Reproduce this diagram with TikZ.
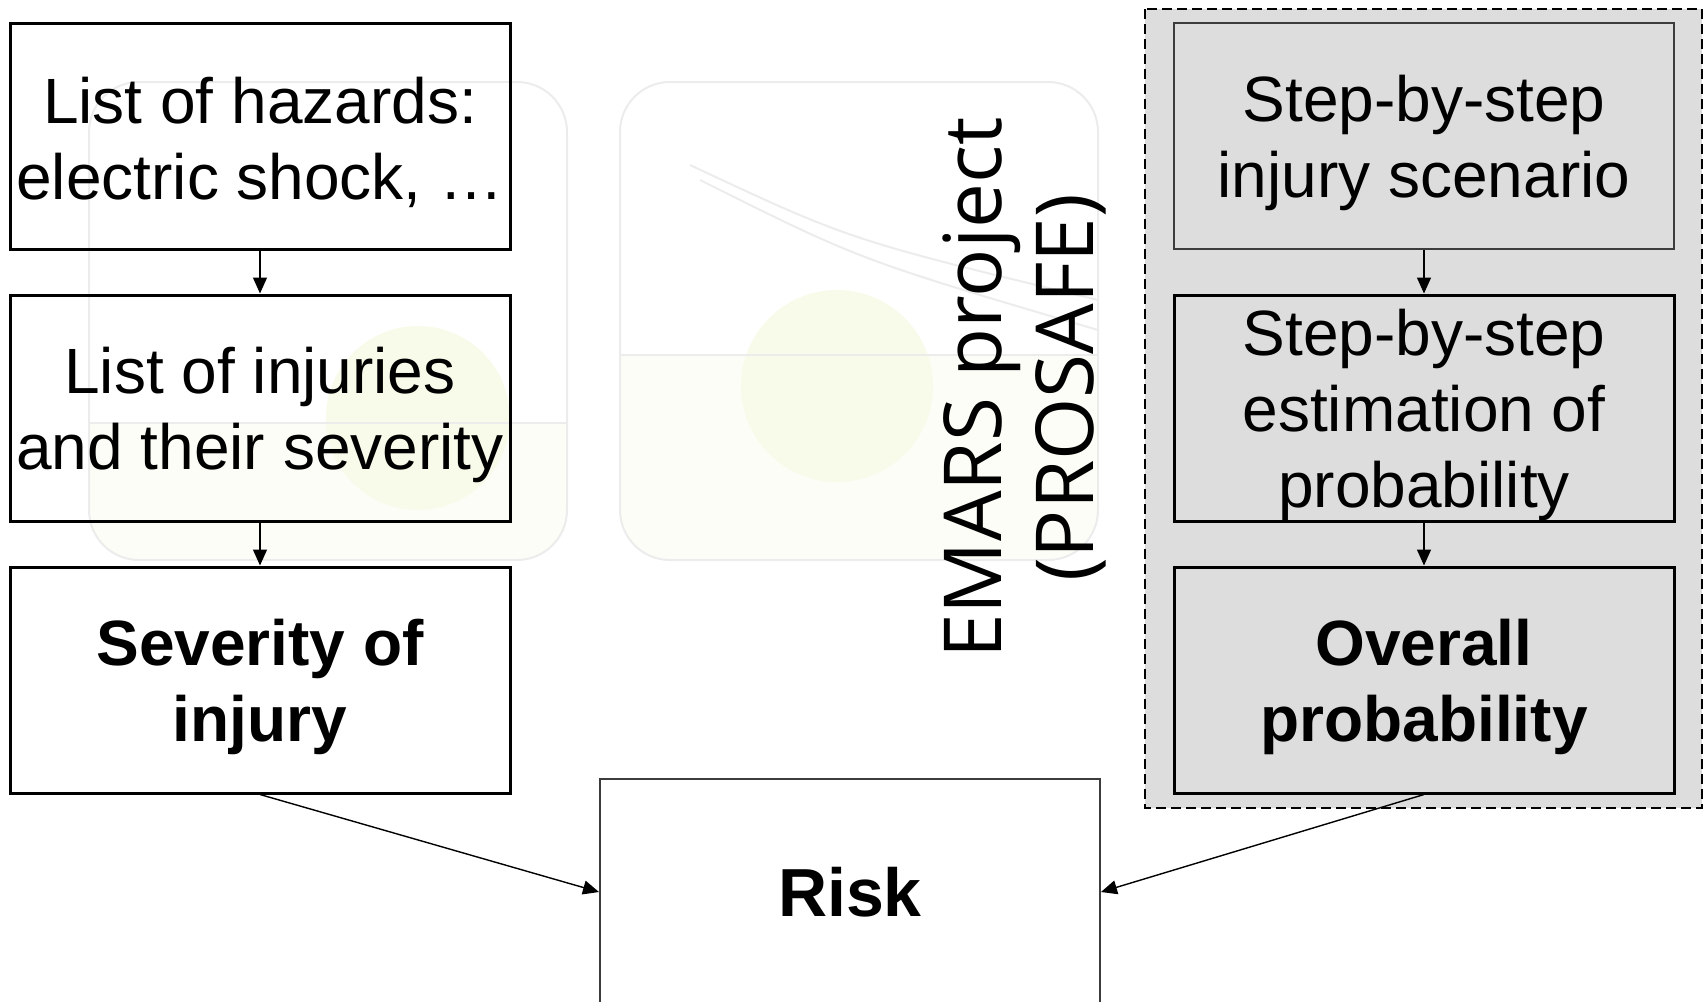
\documentclass[tikz,border=0pt]{standalone}
\usepackage{fontspec}
\setmainfont{Liberation Sans}
\newfontfamily\projfont{Open Sans}
\usetikzlibrary{arrows.meta}
\definecolor{panelgray}{RGB}{221,221,221}
\definecolor{markline}{RGB}{236,236,236}
\definecolor{markfill}{RGB}{252,253,246}
\definecolor{markgreen}{RGB}{249,251,234}
\definecolor{riskline}{RGB}{60,60,60}
\tikzset{
	box/.style={draw=black, line width=1.5pt, minimum width=250pt, minimum height=113pt,
		inner sep=0pt, align=center},
	greybox/.style={box, fill=panelgray},
	boxtext/.style={inner sep=0pt, align=center, font=\fontsize{32}{38}\selectfont},
	boldtext/.style={boxtext, font=\fontsize{32}{38}\selectfont\bfseries},
	arr/.style={-{Triangle[length=8pt,width=7pt]}, line width=0.7pt}
}
\newcommand{\myBox}[5]{
\node[#1] (#2) at (#3) {};
\node[#4] (#2-text) at ([yshift=-3.3pt]#2.center) {#5};
}
\newcommand{\myArrow}[2]{
\draw[arr] (#1) -- (#2);
}

\begin{document}
\begin{tikzpicture}[x=0.5pt,y=-0.5pt]
			\useasboundingbox (0,0) rectangle (1704,1002);
			% faint logo in the background
			\begin{scope}
				\clip[rounded corners=25pt] (89,82) rectangle (567,560);
				\fill[markfill] (89,423) rectangle (567,560);
			\end{scope}
			\begin{scope}
				\clip[rounded corners=25pt] (620,82) rectangle (1098,560);
				\fill[markfill] (620,355) rectangle (1098,560);
			\end{scope}
			\fill[markgreen] (418,418) circle (46pt);
			\fill[markgreen] (837,386) circle (48pt);
			\draw[markline, line width=1pt, rounded corners=25pt] (89,82) rectangle (567,560);
			\draw[markline, line width=1pt, rounded corners=25pt] (620,82) rectangle (1098,560);
			\draw[markline, line width=1pt] (567,423) -- (89,423);
			\draw[markline, line width=1pt] (1098,355) -- (620,355);
			\draw[markline, line width=1pt] (690,165) .. controls (850,240) .. (1098,300);
			\draw[markline, line width=1pt] (700,180) .. controls (860,260) .. (1098,330);
			% dashed panel
			\draw[fill=panelgray, line width=1pt, dash pattern=on 5pt off 2.5pt] (1145,9) rectangle (1702,808);
			% left column
			\myBox{box}{hazards}{260,136}{boxtext}{List of hazards:\\electric shock, \ldots}
			\myBox{box}{injuries}{260,408}{boxtext}{List of injuries\\and their severity}
			\myBox{box}{severity}{260,680}{boldtext}{Severity of\\injury}
			% right column
			\myBox{greybox, draw=riskline, line width=0.8pt}{scenario}{1424,136}{boxtext}{Step-by-step\\injury scenario}
			\myBox{greybox}{estimation}{1424,408}{boxtext}{Step-by-step\\estimation of\\probability}
			\myBox{greybox}{overall}{1424,680}{boldtext}{Overall\\probability}
			% rotated label
			\node[rotate=90, align=center, font=\projfont\fontsize{40}{46}\selectfont] (emars) at (1024,388) {EMARS project\\(PROSAFE)};
			% risk
			\node[box, draw=riskline, line width=1pt, font=\fontsize{34}{40}\selectfont\bfseries] (risk) at (850,892) {Risk};
			% arrows
			\myArrow{hazards}{injuries}
			\myArrow{injuries}{severity}
			\myArrow{scenario}{estimation}
			\myArrow{estimation}{overall}
			\myArrow{severity.south}{risk.west}
			\myArrow{overall.south}{risk.east}
		\end{tikzpicture}
\end{document}
